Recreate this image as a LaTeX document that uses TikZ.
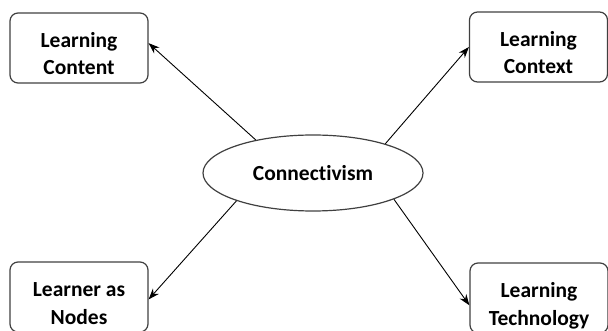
\documentclass[tikz,border=0pt]{standalone}
\usepackage{fontspec}
\setmainfont{Carlito}[Ligatures=NoCommon]
\usetikzlibrary{shapes.geometric,arrows.meta}
\tikzset{
  box/.style={draw=black!75, line width=1.2pt, rounded corners=8pt, minimum width=138pt, minimum height=70pt, inner sep=0pt, align=center, text height=54pt, text depth=0pt, font=\fontsize{21.5}{27.5}\selectfont\bfseries},
  hub/.style={draw=black!75, line width=1.2pt, ellipse, minimum width=220pt, minimum height=76pt, inner sep=0pt, font=\fontsize{21.5}{27.5}\selectfont\bfseries},
  link/.style={line width=0.9pt, -{Stealth[length=11pt,width=8pt]}}
}
\begin{document}
\begin{tikzpicture}[x=1pt,y=-1pt]
\useasboundingbox (0,0) rectangle (608,331);
\clip (0,0) rectangle (608,331);
\node[hub] (c) at (313,173) {Connectivism};
\node[box] (tl) at (79,48) {Learning\\Content};
\node[box] (tr) at (538.5,47) {Learning\\Context};
\node[box] (bl) at (79,297) {Learner as\\Nodes};
\node[box] (br) at (539,298) {Learning\\Technology};
\draw[link] (c.150) -- (tl.4);
\draw[link] (c.22) -- (tr.west);
\draw[link] (c.200) -- (bl.-2.5);
\draw[link] (c.342) -- (br.186);
\end{tikzpicture}
\end{document}
